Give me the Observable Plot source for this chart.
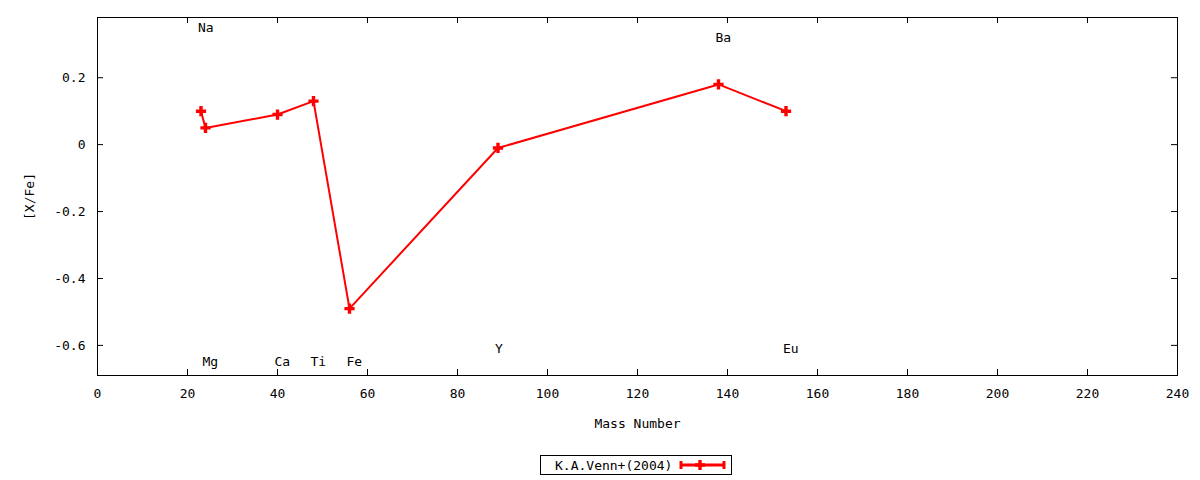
<!DOCTYPE html>
<html><head><meta charset="utf-8">
<script src="https://cdn.jsdelivr.net/npm/d3@7"></script>
<script src="https://cdn.jsdelivr.net/npm/@observablehq/plot@0.6"></script>
<style>
body{margin:0;background:#fff;font-family:"DejaVu Sans Mono",monospace;}
#wrap{position:relative;width:1200px;height:480px;background:#fff;}
#legend{position:absolute;left:540px;top:455px;width:190px;height:18px;border:1px solid #000;display:flex;align-items:center;font-size:13px;color:#000;box-sizing:content-box;}
#legend span{margin-left:14px;white-space:pre;}
#legend svg{margin-left:7px;}
</style></head><body><div id="wrap"></div>
<script>
const elements = ["Na","Mg","Ca","Ti","Fe","Y","Ba","Eu"];
const massNumber = [23,24,40,48,56,89,138,153];
const xFe = [0.10,0.05,0.09,0.13,-0.49,-0.01,0.18,0.10];
const labelY = [0.35,-0.65,-0.65,-0.65,-0.65,-0.61,0.32,-0.61];
const xTicks = [0,20,40,60,80,100,120,140,160,180,200,220,240];
const yTicks = [-0.6,-0.4,-0.2,0,0.2];
const seriesName = "K.A.Venn+(2004)";

const data = elements.map((e,i)=>({el:e, a:massNumber[i], v:xFe[i], ly:labelY[i]}));

const W=1200, H=448, mL=97, mR=23, mT=17, mB=73;
const fw = W-mL-mR, fh = H-mT-mB, tk=6;
const red = "#ff0000";

const chart = Plot.plot({
  width:W, height:H, marginLeft:mL, marginRight:mR, marginTop:mT, marginBottom:mB,
  style:{fontFamily:"DejaVu Sans Mono", fontSize:"13px", color:"#000", background:"#fff", overflow:"visible"},
  x:{domain:[0,240]},
  y:{domain:[-0.69,0.38]},
  marks:[
    Plot.frame({stroke:"#000", strokeWidth:1}),
    Plot.ruleX(xTicks,{x:d=>d, insetTop:fh-tk, stroke:"#000"}),
    Plot.ruleX(xTicks,{x:d=>d, insetBottom:fh-tk, stroke:"#000"}),
    Plot.ruleY(yTicks,{y:d=>d, insetRight:fw-tk, stroke:"#000"}),
    Plot.ruleY(yTicks,{y:d=>d, insetLeft:fw-tk, stroke:"#000"}),
    Plot.axisX({ticks:xTicks, tickSize:0, tickPadding:13, tickFormat:d=>String(d), label:"Mass Number", labelAnchor:"center", labelArrow:"none", labelOffset:52}),
    Plot.axisY({ticks:yTicks, tickSize:0, tickPadding:12, tickFormat:d=>d===0?"0":d.toFixed(1), label:"[X/Fe]", labelAnchor:"center", labelArrow:"none", labelOffset:73}),
    Plot.line(data,{x:"a", y:"v", stroke:red, strokeWidth:2}),
    Plot.dot(data,{x:"a", y:"v", symbol:"cross", r:4.3, fill:red, stroke:null}),
    Plot.text(data,{x:"a", y:"ly", text:"el", textAnchor:"start", dx:-3, fill:"#000", fontSize:13})
  ]
});
document.getElementById("wrap").appendChild(chart);

const leg = document.createElement("div");
leg.id = "legend";
leg.innerHTML = `<span>${seriesName}</span><svg width="48" height="18" viewBox="0 0 48 18">
<line x1="2" y1="9" x2="45" y2="9" stroke="${red}" stroke-width="3"/>
<rect x="0.5" y="5" width="3" height="8" fill="${red}"/>
<rect x="43.5" y="5" width="3" height="8" fill="${red}"/>
<path d="M${21-1.7},${9-5}h3.4v3.3h3.3v3.4h-3.3v3.3h-3.4v-3.3h-3.3v-3.4h3.3z" fill="${red}"/>
</svg>`;
document.getElementById("wrap").appendChild(leg);
</script>
</body></html>
